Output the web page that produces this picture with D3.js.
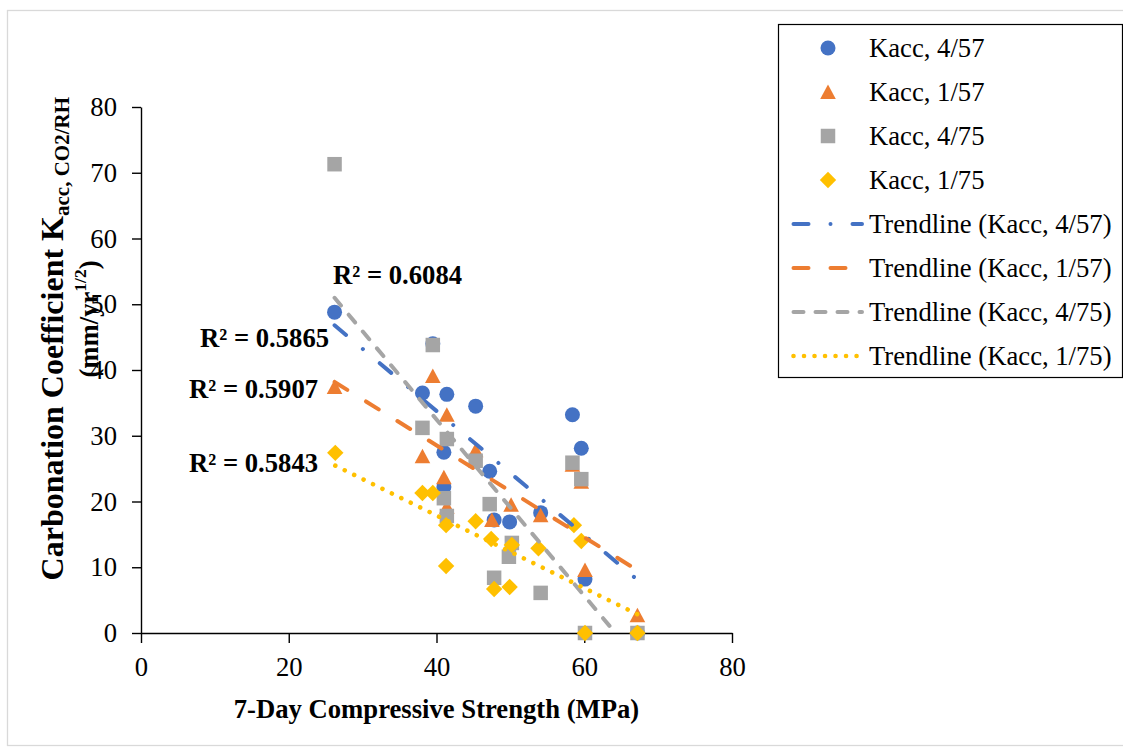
<!DOCTYPE html>
<html>
<head>
<meta charset="utf-8">
<script src="https://cdn.jsdelivr.net/npm/d3@7"></script>
<style>
  html, body { margin: 0; padding: 0; background: #fff; }
  svg { display: block; font-family: "Liberation Serif", "Times New Roman", serif; }
</style>
</head>
<body>
<svg id="chart" width="1123" height="750"></svg>
<script>
// ---- Data: 7-day compressive strength (MPa) vs carbonation coefficient ----
const seriesNames = ["Kacc, 4/57", "Kacc, 1/57", "Kacc, 4/75", "Kacc, 1/75"];

const strength457 = [26.2, 38.1, 39.5, 41.4, 41.0, 41.0, 45.3, 47.2, 47.8, 49.9, 54.1, 58.4, 59.6, 60.1, 67.2];
const kacc457     = [48.8, 36.5, 44.0, 36.3, 27.5, 22.2, 34.5, 24.6, 17.2, 16.9, 18.3, 33.2, 28.1, 8.2, 0];

const strength157 = [26.2, 38.1, 39.5, 41.4, 41.0, 41.4, 45.3, 47.5, 50.1, 54.1, 58.4, 59.6, 60.1, 67.2];
const kacc157     = [37.4, 26.9, 39.1, 33.2, 23.7, 19.2, 27.8, 17.2, 19.5, 17.9, 25.6, 23.0, 9.6, 2.7];

const strength475 = [26.2, 39.5, 38.1, 41.4, 41.0, 41.4, 45.3, 47.2, 47.8, 50.2, 49.8, 54.1, 58.4, 59.6, 60.1, 67.2];
const kacc475     = [71.3, 43.8, 31.2, 29.5, 20.5, 17.8, 26.2, 19.6, 8.4, 13.7, 11.6, 6.1, 25.9, 23.4, 0, 0];

const strength175 = [26.3, 38.1, 39.5, 41.3, 41.3, 45.3, 47.4, 50.2, 53.8, 47.8, 49.9, 58.6, 59.6, 60.1, 67.2];
const kacc175     = [27.4, 21.3, 21.3, 16.4, 10.2, 17.0, 14.3, 13.4, 12.9, 6.7, 7.0, 16.4, 14.0, 0, 0];

const r2Labels = ["R² = 0.5865", "R² = 0.5907", "R² = 0.6084", "R² = 0.5843"];
const xTicks = [0, 20, 40, 60, 80];
const yTicks = [0, 10, 20, 30, 40, 50, 60, 70, 80];

// ---- Styling ----
const colors = ["#4472C4", "#ED7D31", "#A5A5A5", "#FFC000"];
const shapes = ["circle", "triangle", "square", "diamond"];
const trendDash = [
  { dash: "15 22 0.01 22", width: 4 },
  { dash: "15 22", width: 4 },
  { dash: "10 12", width: 4 },
  { dash: "0.01 10.5", width: 4.6 }
];
const FS = 26.67;           // 20pt
const SUB = 17.5;
const r2Pos = [[200, 347], [189, 398], [333, 284], [189, 472]];

const seriesX = [strength457, strength157, strength475, strength175];
const seriesY = [kacc457, kacc157, kacc475, kacc175];

const svg = d3.select("#chart");
const W = 1123, H = 750;
const plot = { left: 141, right: 732, top: 107, bottom: 633 };

const x = d3.scaleLinear().domain([0, 80]).range([plot.left, plot.right]);
const y = d3.scaleLinear().domain([0, 80]).range([plot.bottom, plot.top]);

// chart area frame
svg.append("rect")
  .attr("x", 7.5).attr("y", 10.5)
  .attr("width", W).attr("height", 735)
  .attr("fill", "#fff").attr("stroke", "#d9d9d9").attr("stroke-width", 1.3);

svg.append("defs").append("clipPath").attr("id", "plotClip")
  .append("rect")
  .attr("x", plot.left).attr("y", plot.top)
  .attr("width", plot.right - plot.left).attr("height", plot.bottom - plot.top);

// ---- Axes ----
const xAxis = d3.axisBottom(x).tickValues(xTicks).tickSize(10).tickSizeOuter(0).tickPadding(14);
const yAxis = d3.axisLeft(y).tickValues(yTicks).tickSize(9).tickSizeOuter(0).tickPadding(15);

const gx = svg.append("g").attr("transform", `translate(0,${plot.bottom})`).call(xAxis);
const gy = svg.append("g").attr("transform", `translate(${plot.left},0)`).call(yAxis);
[gx, gy].forEach(g => {
  g.select(".domain").attr("stroke", "#000").attr("stroke-width", 1.4);
  g.selectAll(".tick line").attr("stroke", "#000").attr("stroke-width", 1.4);
  g.selectAll(".tick text")
    .attr("font-family", "'Liberation Serif', 'Times New Roman', serif")
    .attr("font-size", FS).attr("fill", "#000");
});

// ---- Marker shapes ----
function markerPath(shape) {
  switch (shape) {
    case "circle": return d3.symbol(d3.symbolCircle, Math.PI * 7.5 * 7.5)();
    case "square": return d3.symbol(d3.symbolSquare, 14.5 * 14.5)();
    case "triangle": return "M0,-7.5L7.8,7L-7.8,7Z";
    case "diamond": return "M0,-8.2L8.2,0L0,8.2L-8.2,0Z";
  }
}

// ---- Points ----
seriesX.forEach((xs, i) => {
  const pts = xs.map((v, j) => ({ x: v, y: seriesY[i][j] }));
  svg.append("g").selectAll("path")
    .data(pts).join("path")
    .attr("d", markerPath(shapes[i]))
    .attr("transform", d => `translate(${x(d.x)},${y(d.y)})`)
    .attr("fill", colors[i]);
});

// ---- Linear trendlines (least squares) ----
function linearFit(xs, ys) {
  const n = xs.length;
  const mx = d3.mean(xs), my = d3.mean(ys);
  let sxy = 0, sxx = 0;
  for (let k = 0; k < n; k++) {
    sxy += (xs[k] - mx) * (ys[k] - my);
    sxx += (xs[k] - mx) * (xs[k] - mx);
  }
  const slope = sxy / sxx;
  return { slope, intercept: my - slope * mx };
}

const trendG = svg.append("g").attr("clip-path", "url(#plotClip)");
seriesX.forEach((xs, i) => {
  const fit = linearFit(xs, seriesY[i]);
  const [x0, x1] = d3.extent(xs);
  // stop the line where it reaches the x axis
  let xEnd = x1;
  if (fit.intercept + fit.slope * x1 < 0) xEnd = -fit.intercept / fit.slope;
  const line = d3.line().x(d => x(d)).y(d => y(fit.intercept + fit.slope * d));
  trendG.append("path")
    .attr("d", line([x0, xEnd]))
    .attr("fill", "none")
    .attr("stroke", colors[i])
    .attr("stroke-width", trendDash[i].width)
    .attr("stroke-linecap", "round")
    .attr("stroke-dasharray", trendDash[i].dash);
});

// ---- R² labels ----
r2Labels.forEach((t, i) => {
  svg.append("text")
    .attr("x", r2Pos[i][0]).attr("y", r2Pos[i][1])
    .attr("font-size", FS).attr("font-weight", "bold").attr("fill", "#000")
    .text(t);
});

// ---- Axis titles ----
svg.append("text")
  .attr("x", (plot.left + plot.right) / 2).attr("y", 718)
  .attr("text-anchor", "middle")
  .attr("font-size", FS).attr("font-weight", "bold")
  .text("7-Day Compressive Strength (MPa)");

const yt1 = svg.append("text")
  .attr("transform", "translate(63,97) rotate(-90)")
  .attr("text-anchor", "end")
  .attr("font-size", 32).attr("font-weight", "bold");
yt1.append("tspan").text("Carbonation Coefficient K");
yt1.append("tspan").attr("font-size", 21).attr("dy", 6).text("acc, CO2/RH");

const yt2 = svg.append("text")
  .attr("transform", "translate(98,319) rotate(-90)")
  .attr("text-anchor", "middle")
  .attr("font-size", FS).attr("font-weight", "bold");
yt2.append("tspan").text("(mm/yr");
yt2.append("tspan").attr("font-size", SUB).attr("dy", -12).text("1/2");
yt2.append("tspan").attr("dy", 12).text(")");

// ---- Legend ----
const legend = svg.append("g");
legend.append("rect")
  .attr("x", 778.5).attr("y", 24.5)
  .attr("width", 344).attr("height", 353)
  .attr("fill", "#fff").attr("stroke", "#000").attr("stroke-width", 1.2);

const legendItems = [
  ...seriesNames.map((n, i) => ({ type: "marker", i, label: n })),
  ...seriesNames.map((n, i) => ({ type: "line", i, label: `Trendline (${n})` }))
];
const rowY = d3.scaleLinear().domain([0, legendItems.length - 1]).range([48, 356]);

legendItems.forEach((item, k) => {
  const cy = rowY(k);
  if (item.type === "marker") {
    legend.append("path")
      .attr("d", markerPath(shapes[item.i]))
      .attr("transform", `translate(828,${cy})`)
      .attr("fill", colors[item.i]);
  } else {
    legend.append("line")
      .attr("x1", 793.5).attr("x2", 862)
      .attr("y1", cy).attr("y2", cy)
      .attr("stroke", colors[item.i])
      .attr("stroke-width", trendDash[item.i].width)
      .attr("stroke-linecap", "round")
      .attr("stroke-dasharray", trendDash[item.i].dash);
  }
  legend.append("text")
    .attr("x", 869).attr("y", cy).attr("dy", "0.34em")
    .attr("font-size", FS).attr("fill", "#000")
    .text(item.label);
});
</script>
</body>
</html>
